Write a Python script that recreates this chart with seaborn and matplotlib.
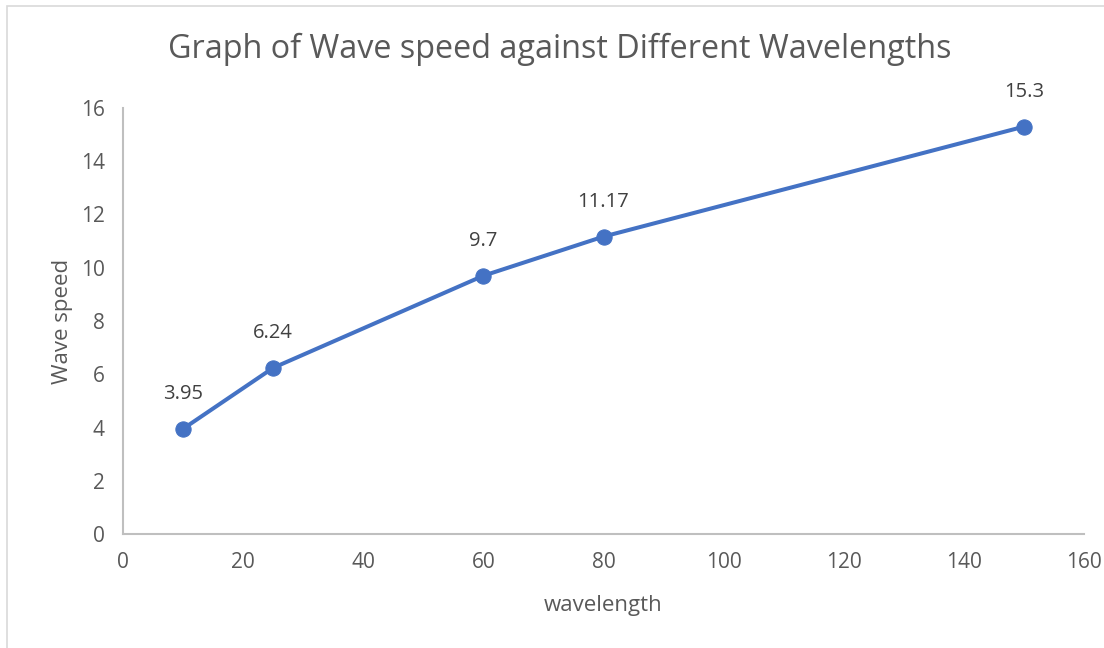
import pandas as pd
import matplotlib.pyplot as plt
import seaborn as sns
from matplotlib.patches import Rectangle

wavelength = [10, 25, 60, 80, 150]
wave_speed = [3.95, 6.24, 9.7, 11.17, 15.3]
speed_labels = ["3.95", "6.24", "9.7", "11.17", "15.3"]
x_ticks = [0, 20, 40, 60, 80, 100, 120, 140, 160]
y_ticks = [0, 2, 4, 6, 8, 10, 12, 14, 16]

text_color = "#595959"
axis_color = "#bfbfbf"
line_color = "#4472C4"

sns.set_style("white")
plt.rcParams["font.family"] = ["Open Sans", "DejaVu Sans"]

df = pd.DataFrame({"wavelength": wavelength, "speed": wave_speed})

fig = plt.figure(figsize=(11.04, 6.48), dpi=100)
ax = fig.add_axes([123 / 1104, 114 / 648, 961 / 1104, 426 / 648])

# light chart-area frame like the spreadsheet export
fig.patches.append(Rectangle((7 / 1104, -0.1), 1.2, (642 - (-64.8)) / 648,
                             transform=fig.transFigure, fill=False,
                             edgecolor="#d9d9d9", linewidth=1.2))

sns.lineplot(data=df, x="wavelength", y="speed", ax=ax, color=line_color,
             linewidth=2.9, marker="o", markersize=11,
             markeredgecolor=line_color, markerfacecolor=line_color)

for x, y, lab in zip(wavelength, wave_speed, speed_labels):
    ax.annotate(lab, (x, y), xytext=(0, 25), textcoords="offset points",
                ha="center", va="center", fontsize=14.5, color="#404040")

ax.set_xlim(0, 160)
ax.set_ylim(0, 16)
ax.set_xticks(x_ticks)
ax.set_yticks(y_ticks)

sns.despine(ax=ax)
for side in ["left", "bottom"]:
    ax.spines[side].set_color(axis_color)
    ax.spines[side].set_linewidth(1.5)

ax.tick_params(axis="both", colors=axis_color, labelcolor=text_color,
               labelsize=15, length=7, width=1.5, direction="out")
ax.tick_params(axis="x", pad=6)
ax.tick_params(axis="y", pad=6)

ax.set_xlabel("wavelength", fontsize=16, color=text_color, labelpad=16)
ax.set_ylabel("Wave speed", fontsize=16, color=text_color, labelpad=6)
fig.text(560 / 1104, 1 - 49 / 648,
         "Graph of Wave speed against Different Wavelengths",
         ha="center", va="center", fontsize=23.3, color=text_color)

fig.savefig("out.png", dpi=100)
